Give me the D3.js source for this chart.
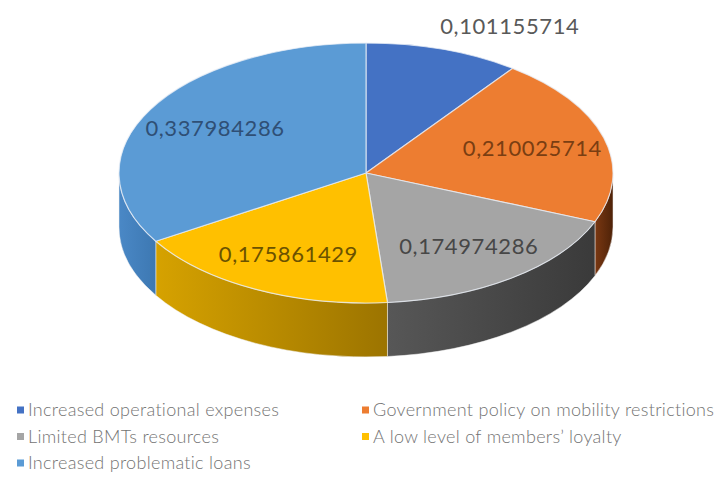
<!DOCTYPE html>
<html>
<head>
<meta charset="utf-8">
<script src="https://cdn.jsdelivr.net/npm/d3@7"></script>
<style>
  html, body { margin: 0; padding: 0; background: #fff; }
  svg { display: block; }
</style>
</head>
<body>
<svg id="chart" width="718" height="503"></svg>
<script>
// Factor shares (clockwise from 12 o'clock)
const categories = [
  "Increased operational expenses",
  "Government policy on mobility restrictions",
  "Limited BMTs resources",
  "A low level of members\u2019 loyalty",
  "Increased problematic loans"
];
const values = [0.101155714, 0.210025714, 0.174974286, 0.175861429, 0.337984286];
const valueLabels = ["0,101155714", "0,210025714", "0,174974286", "0,175861429", "0,337984286"];

// Face colours, side shading and label ink per slice
const topColors  = ["#4472c4", "#ed7d31", "#a5a5a5", "#ffc000", "#5b9bd5"];
const sideLight  = ["#3a64b0", "#7a3812", "#575757", "#d6a200", "#4a88c6"];
const sideDark   = ["#2f5597", "#4e2208", "#3a3a3a", "#9c7400", "#3d78b2"];
const labelInk   = ["#595959", "#7a3e12", "#474747", "#6b5200", "#2f4f75"];

const svg = d3.select("#chart");
const cx = 366, cy = 173, rx = 247, ry = 130, depth = 54;

const pie = d3.pie().sort(null).value(d => d).startAngle(0).endAngle(2 * Math.PI);
const arcs = pie(values);

const pt = (a, k = 1, dy = 0) => [cx + rx * k * Math.sin(a), cy - ry * k * Math.cos(a) + dy];

const defs = svg.append("defs");

// Outer wall: only the front half (angles between pi/2 and 3pi/2) is visible
const sides = [];
arcs.forEach((d, i) => {
  const s0 = Math.max(d.startAngle, Math.PI / 2);
  const s1 = Math.min(d.endAngle, 3 * Math.PI / 2);
  if (s1 > s0) sides.push({ i, s0, s1 });
});

sides.forEach(s => {
  const p0 = pt(s.s0), p1 = pt(s.s1);
  // Shading darkens toward the clockwise start of each wall piece
  const g = defs.append("linearGradient")
    .attr("id", "side" + s.i)
    .attr("gradientUnits", "userSpaceOnUse")
    .attr("x1", p1[0]).attr("x2", p0[0])
    .attr("y1", 0).attr("y2", 0);
  g.append("stop").attr("offset", 0).attr("stop-color", sideLight[s.i]);
  g.append("stop").attr("offset", 1).attr("stop-color", sideDark[s.i]);
});

const sideG = svg.append("g");
sides.forEach(s => {
  const p0 = pt(s.s0), p1 = pt(s.s1);
  const q0 = pt(s.s0, 1, depth), q1 = pt(s.s1, 1, depth);
  const large = (s.s1 - s.s0) > Math.PI ? 1 : 0;
  const path = `M${p0}A${rx},${ry} 0 ${large} 1 ${p1}L${q1}A${rx},${ry} 0 ${large} 0 ${q0}Z`;
  sideG.append("path")
    .attr("d", path)
    .attr("fill", `url(#side${s.i})`)
    .attr("stroke", "#f2f2f2")
    .attr("stroke-opacity", 0.5)
    .attr("stroke-width", 1);
});

// Top faces
const topG = svg.append("g");
arcs.forEach((d, i) => {
  const p0 = pt(d.startAngle), p1 = pt(d.endAngle);
  const large = (d.endAngle - d.startAngle) > Math.PI ? 1 : 0;
  topG.append("path")
    .attr("d", `M${cx},${cy}L${p0}A${rx},${ry} 0 ${large} 1 ${p1}Z`)
    .attr("fill", topColors[i])
    .attr("stroke", "#e8eef6")
    .attr("stroke-opacity", 0.75)
    .attr("stroke-width", 1.2)
    .attr("stroke-linejoin", "round");
});

// Value labels
const labelG = svg.append("g")
  .attr("font-family", "Lato, 'Open Sans', sans-serif")
  .attr("font-size", 22);
arcs.forEach((d, i) => {
  const mid = (d.startAngle + d.endAngle) / 2;
  if (i === 0) {
    // Thin slice at the back: label sits outside above the rim
    const rim = pt(mid);
    labelG.append("text")
      .attr("x", rim[0] - 3).attr("y", rim[1] - 23)
      .attr("dy", "0.35em")
      .attr("fill", labelInk[i])
      .attr("letter-spacing", 0.6)
      .text(valueLabels[i]);
  } else {
    const p = pt(mid, 0.7);
    labelG.append("text")
      .attr("x", p[0]).attr("y", p[1])
      .attr("dy", "0.35em")
      .attr("text-anchor", "middle")
      .attr("fill", labelInk[i])
      .attr("letter-spacing", 0.6)
      .text(valueLabels[i]);
  }
});

// Legend: two columns, filled row by row
const legendCol = d3.scaleOrdinal().domain([0, 1]).range([17, 362]);
const legendRow = d3.scaleLinear().domain([0, 1]).range([410, 436.5]);
const legend = svg.append("g")
  .attr("font-family", "Lato, 'Open Sans', sans-serif")
  .attr("font-size", 18)
  .attr("font-weight", 300)
  .attr("letter-spacing", 0.3)
  .attr("fill", "#737373");
categories.forEach((c, i) => {
  const x = legendCol(i % 2), y = legendRow(Math.floor(i / 2));
  const item = legend.append("g").attr("transform", `translate(${x},${y})`);
  item.append("rect").attr("x", 0).attr("y", -3.5).attr("width", 7).attr("height", 7)
    .attr("fill", topColors[i]);
  item.append("text").attr("x", 11).attr("y", 0).attr("dy", "0.35em").text(c);
});
</script>
</body>
</html>
